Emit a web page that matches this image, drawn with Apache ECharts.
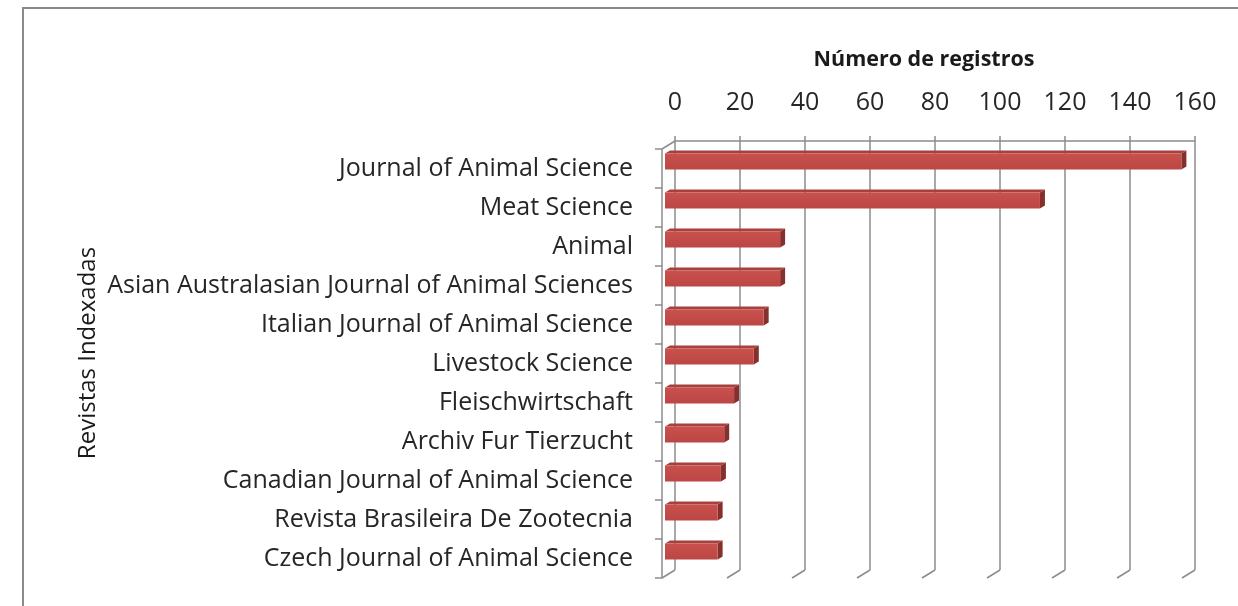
<!DOCTYPE html>
<html><head><meta charset="utf-8">
<script src="https://cdn.jsdelivr.net/npm/echarts/dist/echarts.min.js"></script>
<style>html,body{margin:0;padding:0;background:#fff}#c{width:1238px;height:606px}</style>
</head><body><div id="c"></div>
<script>
const categories = ["Journal of Animal Science","Meat Science","Animal","Asian Australasian Journal of Animal Sciences","Italian Journal of Animal Science","Livestock Science","Fleischwirtschaft","Archiv Fur Tierzucht","Canadian Journal of Animal Science","Revista Brasileira De Zootecnia","Czech Journal of Animal Science"];
const registros = [157,114,35,35,30,27,21,18,17,16,16];
const xTicks = [0,20,40,60,80,100,120,140,160];
const titleText = "Número de registros";
const yTitle = "Revistas Indexadas";

const FONT = "'Open Sans'";
const GRID_COLOR = '#8c8c8c';

function renderFrame(params, api){
  const cs = params.coordSys;
  const top = cs.y, bot = cs.y + cs.height;
  const dx = -13, dy = 8;
  const ls = {stroke: GRID_COLOR, lineWidth: 1.5};
  const children = [];
  xTicks.forEach(t => {
    const x = api.coord([t, 0])[0];
    children.push({type:'line', shape:{x1:x, y1:bot, x2:x+dx, y2:bot+dy}, style:ls});
  });
  const x0 = api.coord([0, 0])[0];
  children.push({type:'line', shape:{x1:x0+dx, y1:top+dy, x2:x0+dx, y2:bot+dy}, style:ls});
  children.push({type:'line', shape:{x1:x0+dx, y1:top+dy, x2:x0, y2:top}, style:ls});
  const band = api.size([0, 1])[1];
  for (let i = 0; i <= categories.length; i++) {
    const y = top + dy + i * band;
    children.push({type:'line', shape:{x1:x0+dx-7, y1:y, x2:x0+dx, y2:y}, style:ls});
  }
  return {type:'group', children};
}

function renderBar(params, api){
  const v = api.value(0), i = api.value(1);
  const p0 = api.coord([0, i]), p1 = api.coord([v, i]);
  const x0 = p0[0] - 10, x1 = x0 + (p1[0] - p0[0]) * 1.012;
  const yc = p0[1] + 1, h = 16, ox = 5, oy = -3;
  const yt = yc - h/2, yb = yc + h/2;
  return {type:'group', children:[
    {type:'polygon', shape:{points:[[x0,yt],[x1,yt],[x1+ox,yt+oy],[x0+ox,yt+oy]]}, style:{fill:'#a8413e'}},
    {type:'polygon', shape:{points:[[x1,yt],[x1+ox,yt+oy],[x1+ox,yb+oy],[x1,yb]]}, style:{fill:'#86302e'}},
    {type:'rect', shape:{x:x0, y:yt, width:x1-x0, height:h},
     style:{fill:new echarts.graphic.LinearGradient(0,0,0,1,[{offset:0,color:'#c9514e'},{offset:1,color:'#bb4643'}])}}
  ]};
}

const chart = echarts.init(document.getElementById('c'), null, {renderer:'canvas'});
chart.setOption({
  animation: false,
  backgroundColor: '#fff',
  grid: {left: 675, right: 43, top: 141, bottom: 36, containLabel: false},
  xAxis: {
    type: 'value', position: 'top', min: 0, max: 160, interval: 20,
    axisLine: {show: true, lineStyle: {color: GRID_COLOR, width: 1.5}},
    axisTick: {show: true, length: 5, lineStyle: {color: GRID_COLOR, width: 1.5}},
    axisLabel: {fontSize: 25, color: '#262626', margin: 26, fontFamily: FONT,
      formatter: v => xTicks.indexOf(v) >= 0 ? String(v) : ''},
    splitLine: {show: true, lineStyle: {color: GRID_COLOR, width: 1.5}}
  },
  yAxis: {
    type: 'category', data: categories, inverse: true,
    axisLine: {show: false}, axisTick: {show: false}, splitLine: {show: false},
    axisLabel: {margin: 42, formatter: v => '{a|' + v + '}',
      rich: {a: {fontSize: 25, color: '#262626', fontFamily: FONT, padding: [17, 0, 0, 0]}}}
  },
  graphic: [
    {type:'polyline', shape:{points:[[23,606],[23,8],[1238,8]]}, style:{stroke:'#8a8a8a', lineWidth:2, fill:null}},
    {type:'text', x: 924, y: 60, style:{text: titleText, font: 'bold 21.5px ' + FONT, fill:'#1a1a1a', align:'center', verticalAlign:'middle'}},
    {type:'text', x: 88, y: 353, rotation: Math.PI/2, style:{text: yTitle, font: '24px ' + FONT, fill:'#1a1a1a', align:'center', verticalAlign:'middle'}}
  ],
  series: [
    {type:'custom', name:'frame', silent:true, z:1, data:[[0,0]], encode:{x:0, y:1}, renderItem: renderFrame},
    {type:'custom', name:'Número de registros', z:3, data: registros.map((v,i)=>[v,i]), encode:{x:0, y:1}, renderItem: renderBar}
  ]
});
</script>
</body></html>
